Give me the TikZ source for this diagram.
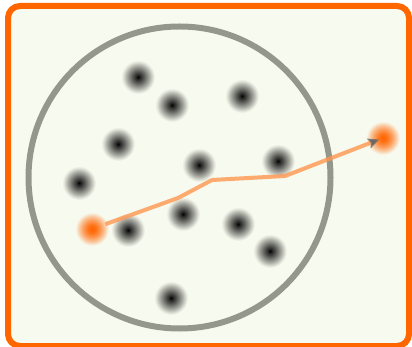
\documentclass[tikz,border=0pt]{standalone}
\usetikzlibrary{arrows.meta}
\definecolor{bg}{RGB}{247,250,238}
\definecolor{frame}{RGB}{255,102,0}
\definecolor{ring}{RGB}{148,151,140}
\definecolor{pathc}{RGB}{255,150,80}
\definecolor{tipc}{RGB}{105,105,100}
\definecolor{hot}{RGB}{255,100,0}
\pgfdeclareradialshading{blackhalo}{\pgfpoint{0bp}{0bp}}{color(0bp)=(black); color(3bp)=(black!85!bg); color(10bp)=(black!58!bg); color(17bp)=(black!30!bg); color(22bp)=(black!9!bg); color(25bp)=(bg); color(50bp)=(bg)}
\pgfdeclareradialshading{orangehalo}{\pgfpoint{0bp}{0bp}}{color(0bp)=(hot); color(6bp)=(hot!90!bg); color(13bp)=(hot!62!bg); color(19bp)=(hot!32!bg); color(23bp)=(hot!8!bg); color(25bp)=(bg); color(50bp)=(bg)}
\tikzset{
  x=1pt, y=-1pt,
  particle/.style={circle, minimum size=34pt, inner sep=0pt, shading=blackhalo},
  probe/.style={circle, minimum size=34pt, inner sep=0pt, shading=orangehalo},
  track/.style={draw=pathc, draw opacity=0.8, line width=4pt, line join=round},
}
\begin{document}
\begin{tikzpicture}
\clip (0,0) rectangle (412,347);
\fill[white] (0,0) rectangle (412,347);
\draw[frame, fill=bg, line width=6pt, rounded corners=12pt] (8,6) rectangle (409,346);
\draw[ring, line width=6pt] (179.5,177.5) circle (151);
\node[particle] (d1) at (138,77) {};
\node[particle] (d2) at (172,105) {};
\node[particle] (d3) at (242,96) {};
\node[particle] (d4) at (118,144) {};
\node[particle] (d5) at (199,165) {};
\node[particle] (d6) at (278,161) {};
\node[particle] (d7) at (79,183) {};
\node[particle] (d8) at (183,214) {};
\node[particle] (d9) at (128,230) {};
\node[particle] (d10) at (238,224) {};
\node[particle] (d11) at (270,251) {};
\node[particle] (d12) at (171,298) {};
\node[probe] (s) at (92,229) {};
\node[probe] (t) at (383,138) {};
\coordinate (b1) at (178,198);
\coordinate (b2) at (212,180);
\coordinate (b3) at (285,176);
\draw[track, -{Stealth[length=11pt, width=10pt, color=tipc, inset=2pt]}, shorten <=-3pt, shorten >=4pt]
  (s) -- (b1) -- (b2) -- (b3) -- (t.center);
\end{tikzpicture}
\end{document}
